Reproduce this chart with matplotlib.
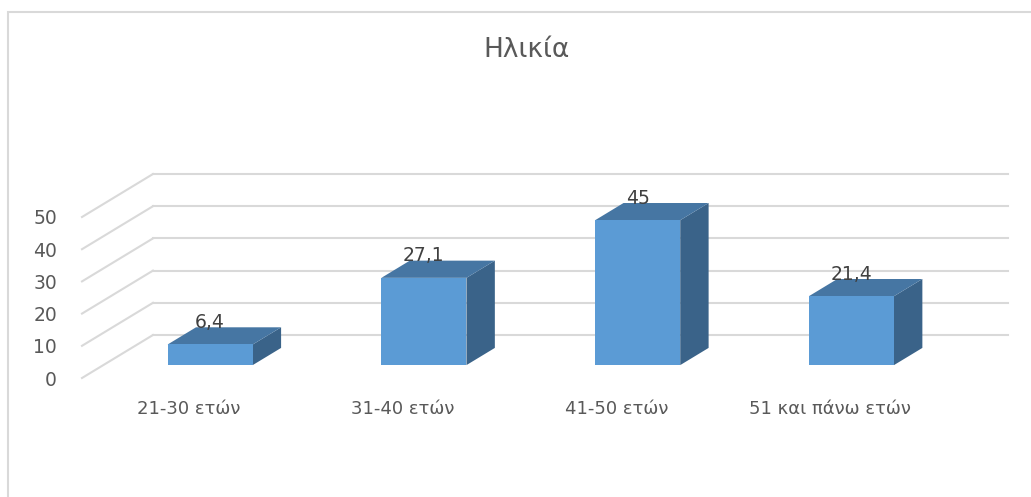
import matplotlib.pyplot as plt
from matplotlib.patches import Polygon, Rectangle

categories = ['21-30 ετών', '31-40 ετών', '41-50 ετών', '51 και πάνω ετών']
values = [6.4, 27.1, 45, 21.4]
labels = ['6,4', '27,1', '45', '21,4']
yticks = [0, 10, 20, 30, 40, 50]

plt.rcParams['font.family'] = ['DejaVu Sans']
txt = '#595959'
grid = '#d9d9d9'
c_front = '#5b9bd5'
c_top = '#4676a3'
c_side = '#3a6389'

W, H = 1031, 497
fig = plt.figure(figsize=(W / 100, H / 100), dpi=100)

# floor depth (oblique 3d look), in data units
dx, dy = 0.332, 13.35
ymax = 50 + dy
x0, x1 = 82, 1008          # front-left / back-right pixels
yb, yt = 378, 378 - ymax * 3.22
ax = fig.add_axes([x0 / W, (H - yb) / H, (x1 - x0) / W, (yb - yt) / H])
ax.set_xlim(0, len(categories) + dx)
ax.set_ylim(0, ymax)
for s in ax.spines.values():
    s.set_visible(False)

# back wall and floor gridlines
for v in yticks:
    ax.plot([0, dx], [v, v + dy], color=grid, lw=1.5, clip_on=False, zorder=1)
    ax.plot([dx, len(categories) + dx], [v + dy, v + dy], color=grid, lw=1.5,
            clip_on=False, zorder=1)

# bars: front face between depth 0.3 and 0.7
bw = 0.398
f0, f1 = 0.3, 0.7
for i, v in enumerate(values):
    cx = i + 0.5 + f0 * dx
    bx = cx - bw / 2
    by = f0 * dy
    ddx, ddy = (f1 - f0) * dx, (f1 - f0) * dy
    side = Polygon([(bx + bw, by), (bx + bw + ddx, by + ddy),
                    (bx + bw + ddx, by + ddy + v), (bx + bw, by + v)],
                   closed=True, fc=c_side, ec='none', zorder=3)
    top = Polygon([(bx, by + v), (bx + ddx, by + ddy + v),
                   (bx + bw + ddx, by + ddy + v), (bx + bw, by + v)],
                  closed=True, fc=c_top, ec='none', zorder=3)
    ax.add_patch(side)
    ax.add_patch(top)
    ax.bar(cx, v, bw, bottom=by, color=c_front, zorder=4)
    ax.text(cx, v + f1 * dy + 1.5, labels[i], ha='center', va='center',
            fontsize=13.5, color='#404040', zorder=5)

ax.set_xticks([i + 0.5 for i in range(len(categories))])
ax.set_xticklabels(categories, fontsize=13, color=txt)
ax.set_yticks(yticks)
ax.set_yticklabels([str(t) for t in yticks], fontsize=13.5, color=txt)
ax.tick_params(axis='x', length=0, pad=16)
ax.tick_params(axis='y', length=0, pad=18)

fig.text(527 / W, 1 - 50 / H, 'Ηλικία', ha='center', va='center',
         fontsize=19, color=txt)

# chart area border (cropped at right and bottom)
fig.patches.append(Rectangle((8 / W, -0.01), 1.1, (H - 12) / H + 0.01,
                             transform=fig.transFigure, fill=False,
                             ec=grid, lw=1.5))

fig.savefig('out.png', dpi=100)
